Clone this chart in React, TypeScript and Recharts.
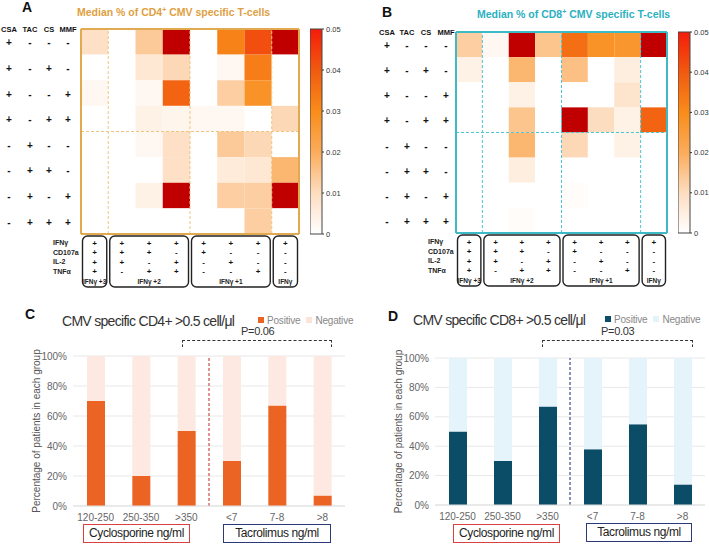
import React from 'react';
import { ScatterChart, Scatter, XAxis, YAxis, ReferenceLine, BarChart, Bar, CartesianGrid } from 'recharts';

// immunosuppression combos (rows of the heatmaps)
const drugNames = ['CSA', 'TAC', 'CS', 'MMF'];
const drugRows = [
  ['+', '-', '-', '-'],
  ['+', '-', '+', '-'],
  ['+', '-', '-', '+'],
  ['+', '-', '+', '+'],
  ['-', '+', '-', '-'],
  ['-', '+', '+', '-'],
  ['-', '+', '-', '+'],
  ['-', '+', '+', '+'],
];

// functional marker combos (columns)
const markerNames = ['IFNγ', 'CD107a', 'IL-2', 'TNFα'];
const markerCols = [
  ['+', '+', '+', '+'],
  ['+', '+', '+', '-'],
  ['+', '+', '-', '+'],
  ['+', '-', '+', '+'],
  ['+', '+', '-', '-'],
  ['+', '-', '+', '-'],
  ['+', '-', '-', '+'],
  ['+', '-', '-', '-'],
];
const markerGroups = [
  { label: 'IFNγ +3', start: 0, len: 1 },
  { label: 'IFNγ +2', start: 1, len: 3 },
  { label: 'IFNγ +1', start: 4, len: 3 },
  { label: 'IFNγ', start: 7, len: 1 },
];

// median % values, > 0.05 is off scale (dark red)
const cd4Median = [
  [0.009, 0, 0.014, 0.06, 0, 0.032, 0.042, 0.06],
  [0, 0, 0.007, 0.011, 0, 0.002, 0.033, 0],
  [0.002, 0, 0.002, 0.038, 0, 0.013, 0.028, 0],
  [0, 0, 0.004, 0.003, 0.002, 0.002, 0, 0.011],
  [0, 0, 0.002, 0.009, 0, 0.014, 0.011, 0],
  [0, 0, 0, 0.009, 0, 0.006, 0.007, 0.018],
  [0, 0, 0.004, 0.06, 0, 0.013, 0.013, 0.06],
  [0, 0, 0, 0, 0, 0, 0.013, 0],
];
const cd8Median = [
  [0.013, 0.002, 0.06, 0.015, 0.036, 0.028, 0.027, 0.06],
  [0.004, 0, 0.018, 0, 0.016, 0, 0.005, 0],
  [0, 0, 0.004, 0, 0, 0, 0.008, 0],
  [0, 0, 0.015, 0, 0.06, 0.01, 0.004, 0.038],
  [0, 0, 0.018, 0, 0.011, 0, 0.004, 0],
  [0, 0, 0.005, 0, 0, 0, 0, 0],
  [0, 0, 0, 0, 0.001, 0, 0, 0],
  [0, 0, 0.001, 0, 0, 0, 0, 0],
];
const scaleTicks = [0, 0.01, 0.02, 0.03, 0.04, 0.05];

// panels C / D
const levels = ['120-250', '250-350', '>350', '<7', '7-8', '>8'];
const cd4Pos = [70, 20, 50, 30, 67, 7];
const cd4Neg = [30, 80, 50, 70, 33, 93];
const cd8Pos = [50, 30, 67, 38, 55, 14];
const cd8Neg = [50, 70, 33, 62, 45, 86];
const pctTicks = [0, 20, 40, 60, 80, 100];

const FONT = 'Arial, "Liberation Sans", sans-serif';

const heatStops: [number, number[]][] = [
  [0, [255, 255, 255]],
  [0.01, [253, 221, 192]],
  [0.02, [251, 172, 92]],
  [0.03, [249, 140, 26]],
  [0.04, [240, 90, 16]],
  [0.05, [245, 28, 10]],
];

function heatColor(v: number) {
  if (v > 0.05) return '#c00000';
  for (let i = 1; i < heatStops.length; i++) {
    const [v1, c1] = heatStops[i];
    if (v <= v1) {
      const [v0, c0] = heatStops[i - 1];
      const t = (v - v0) / (v1 - v0);
      const c = c0.map((a, k) => Math.round(a + (c1[k] - a) * t));
      return `rgb(${c[0]},${c[1]},${c[2]})`;
    }
  }
  return '#c00000';
}

interface HeatmapProps {
  values: number[][];
  left: number;
  top: number;
  plotW: number;
  plotH: number;
  accent: string;
  dash: string;
  rowX: number[];
}

function Heatmap({ values, left, top, plotW, plotH, accent, dash, rowX }: HeatmapProps) {
  const padL = 81;
  const mTop = 20;
  const axisH = 62;
  const cw = plotW / 8;
  const ch = plotH / 8;
  const cells = values.flatMap((row, r) => row.map((v, c) => ({ x: c + 0.5, y: r + 0.5, v })));
  const centers = drugRows.map((_, i) => i + 0.5);
  const bottom = mTop + plotH;
  const signY = [9, 18.5, 28, 37.5];

  const rowTick = (p: any) => {
    const r = Math.floor(p.payload.value);
    return (
      <g>
        {r === 0 &&
          drugNames.map((d, k) => (
            <text key={d} x={padL + rowX[k]} y={p.y - 10} textAnchor="middle" fontSize={7.5} fontWeight="bold" fill="#111" fontFamily={FONT}>
              {d}
            </text>
          ))}
        {drugRows[r].map((s, k) => (
          <text key={k} x={padL + rowX[k]} y={p.y + 1} dy="0.35em" textAnchor="middle" fontSize={10} fontWeight="bold" fill="#111" fontFamily={FONT}>
            {s}
          </text>
        ))}
      </g>
    );
  };

  const colTick = (p: any) => {
    const c = Math.floor(p.payload.value);
    const grp = markerGroups.find((g) => g.start === c);
    return (
      <g>
        {c === 0 &&
          markerNames.map((m, k) => (
            <text key={m} x={padL - 28} y={bottom + signY[k]} dy="0.35em" fontSize={7} fontWeight="bold" fill="#222" fontFamily={FONT}>
              {m}
            </text>
          ))}
        {markerCols[c].map((s, k) => (
          <text key={k} x={p.x} y={bottom + signY[k]} dy="0.35em" textAnchor="middle" fontSize={8} fontWeight="bold" fill="#111" fontFamily={FONT}>
            {s}
          </text>
        ))}
        {grp && (
          <g>
            <rect x={p.x - cw / 2 + 1.5} y={bottom + 2} width={grp.len * cw - 3} height={51} rx={5} fill="none" stroke="#222" strokeWidth={1.4} />
            <text x={p.x - cw / 2 + (grp.len * cw) / 2} y={bottom + 48} dy="0.35em" textAnchor="middle" fontSize={6.5} fontWeight="bold" fill="#222" fontFamily={FONT}>
              {grp.label}
            </text>
          </g>
        )}
      </g>
    );
  };

  return (
    <div style={{ position: 'absolute', left: left - padL, top: top - mTop }}>
      <ScatterChart width={padL + plotW + 4} height={mTop + plotH + axisH} margin={{ top: mTop, right: 4, bottom: 0, left: 0 }}>
        <XAxis type="number" dataKey="x" domain={[0, 8]} ticks={centers} interval={0} axisLine={false} tickLine={false} height={axisH} tick={colTick} />
        <YAxis type="number" dataKey="y" domain={[0, 8]} reversed ticks={centers} interval={0} axisLine={false} tickLine={false} width={padL} tick={rowTick} />
        <Scatter
          data={cells}
          isAnimationActive={false}
          shape={(p: any) => <rect x={p.cx - cw / 2} y={p.cy - ch / 2} width={cw} height={ch} fill={heatColor(p.payload.v)} />}
        />
        {[1, 4, 7].map((x) => (
          <ReferenceLine key={x} x={x} stroke={dash} strokeDasharray="3 2" strokeWidth={1} zIndex={700} />
        ))}
        <ReferenceLine y={4} stroke={dash} strokeDasharray="3 2" strokeWidth={1} zIndex={700} />
        {[0, 8].map((x) => (
          <ReferenceLine key={'bx' + x} x={x} stroke={accent} strokeWidth={2} zIndex={700} />
        ))}
        {[0, 8].map((y) => (
          <ReferenceLine key={'by' + y} y={y} stroke={accent} strokeWidth={2} zIndex={700} />
        ))}
      </ScatterChart>
    </div>
  );
}

function ColorBar({ id, left, top, h }: { id: string; left: number; top: number; h: number }) {
  const max = scaleTicks[scaleTicks.length - 1];
  // top of the bar is the max, so go from high to low for increasing offsets
  const steps = [0.05, 0.045, 0.04, 0.035, 0.03, 0.025, 0.02, 0.015, 0.01, 0.005, 0];
  return (
    <div style={{ position: 'absolute', left, top: top - 6 }}>
      <BarChart width={44} height={h + 12} data={[{ k: 'scale', v: max }]} margin={{ top: 6, bottom: 6, left: 0, right: 0 }} barCategoryGap={0}>
        <defs>
          <linearGradient id={id} x1="0" y1="0" x2="0" y2="1">
            {steps.map((s) => (
              <stop key={s} offset={1 - s / max} stopColor={heatColor(s)} />
            ))}
          </linearGradient>
        </defs>
        <XAxis dataKey="k" hide />
        <YAxis
          orientation="right"
          type="number"
          domain={[0, max]}
          ticks={scaleTicks}
          width={32}
          axisLine={false}
          tickLine={{ stroke: '#333' }}
          tickSize={2}
          tickMargin={2}
          tick={{ fontSize: 7.5, fill: '#333', fontFamily: FONT }}
          tickFormatter={(v: number) => String(v)}
        />
        <Bar dataKey="v" fill={`url(#${id})`} stroke="#444" strokeWidth={1} isAnimationActive={false} />
      </BarChart>
    </div>
  );
}

interface BarPanelProps {
  left: number;
  top: number;
  width: number;
  plotH: number;
  pos: number[];
  neg: number[];
  posColor: string;
  negColor: string;
  sepColor: string;
}

function BarPanel({ left, top, width, plotH, pos, neg, posColor, negColor, sepColor }: BarPanelProps) {
  const data = levels.map((g, i) => ({ g, Positive: pos[i], Negative: neg[i] }));
  const axisTick = { fontSize: 10, fill: '#666', fontFamily: FONT };
  return (
    <div style={{ position: 'absolute', left, top }}>
      <BarChart width={width} height={56 + plotH + 18 + 21} data={data} margin={{ top: 56, right: width === 360 ? 15 : 4, bottom: 21, left: 0 }}>
        <CartesianGrid vertical={false} stroke="#e8e8e8" />
        <XAxis dataKey="g" axisLine={{ stroke: '#e0e0e0' }} tickLine={false} tick={axisTick} height={18} interval={0} />
        <YAxis
          domain={[0, 100]}
          ticks={pctTicks}
          tickFormatter={(v: number) => v + '%'}
          width={73}
          axisLine={false}
          tickLine={false}
          tickSize={4}
          tick={axisTick}
          label={{
            value: 'Percentage of patients in each group',
            angle: -90,
            position: 'insideLeft',
            offset: 36,
            style: { textAnchor: 'middle', fontSize: 10, fill: '#555', fontFamily: FONT },
          }}
        />
        <Bar dataKey="Positive" stackId="s" fill={posColor} barSize={18} isAnimationActive={false} />
        <Bar dataKey="Negative" stackId="s" fill={negColor} barSize={18} isAnimationActive={false} />
        <ReferenceLine x={levels[3]} position="start" stroke={sepColor} strokeDasharray="3 2" strokeWidth={1.2} />
      </BarChart>
    </div>
  );
}

const abs = (left: number, top: number, extra: React.CSSProperties = {}): React.CSSProperties => ({
  position: 'absolute',
  left,
  top,
  lineHeight: 1,
  whiteSpace: 'nowrap',
  ...extra,
});

function Legend({ left, top, posColor, negColor }: { left: number; top: number; posColor: string; negColor: string }) {
  const sq = (c: string): React.CSSProperties => ({ display: 'inline-block', width: 6, height: 6, background: c, marginRight: 3, verticalAlign: 'middle', position: 'relative', top: -1 });
  return (
    <div style={abs(left, top, { fontSize: 10, color: '#888', letterSpacing: -0.2 })}>
      <span style={sq(posColor)} />
      Positive
      <span style={{ ...sq(negColor), marginLeft: 6 }} />
      Negative
    </div>
  );
}

function Bracket({ left, top, width }: { left: number; top: number; width: number }) {
  return (
    <div
      style={{
        position: 'absolute',
        left,
        top,
        width,
        height: 6,
        borderTop: '1.3px dashed #333',
        borderLeft: '1.3px dashed #333',
        borderRight: '1.3px dashed #333',
      }}
    />
  );
}

function DrugBox({ left, top, width, color, text }: { left: number; top: number; width: number; color: string; text: string }) {
  return (
    <div
      style={{
        position: 'absolute',
        left,
        top,
        width,
        height: 19,
        boxSizing: 'border-box',
        border: `1.5px solid ${color}`,
        fontSize: 12,
        lineHeight: '16px',
        textAlign: 'center',
        color: '#222',
        letterSpacing: -0.4,
        whiteSpace: 'nowrap',
      }}
    >
      {text}
    </div>
  );
}

export default function App() {
  const sup: React.CSSProperties = { fontSize: 7, verticalAlign: 'super', lineHeight: 0 };
  return (
    <div style={{ position: 'absolute', left: 0, top: 0, width: 709, height: 545, background: '#fff', overflow: 'hidden', fontFamily: FONT }}>
      {/* A */}
      <div style={abs(22, 0, { fontSize: 14, fontWeight: 'bold', color: '#111' })}>A</div>
      <div style={abs(77, 7, { fontSize: 10.5, fontWeight: 'bold', color: '#E0A042' })}>
        Median % of CD4<span style={sup}>+</span> CMV specific T-cells
      </div>
      <Heatmap values={cd4Median} left={81} top={29} plotW={218} plotH={205} accent="#E2AA50" dash="#EDC57E" rowX={[-72, -51, -32, -13]} />
      <ColorBar id="cbA" left={310} top={29} h={205} />

      {/* B */}
      <div style={abs(382, 5, { fontSize: 14, fontWeight: 'bold', color: '#111' })}>B</div>
      <div style={abs(477, 9, { fontSize: 10.5, fontWeight: 'bold', color: '#2BB0C0' })}>
        Median % of CD8<span style={sup}>+</span> CMV specific T-cells
      </div>
      <Heatmap values={cd8Median} left={456} top={32} plotW={211} plotH={201} accent="#3DBAC6" dash="#4CC6D2" rowX={[-69, -49, -30, -10]} />
      <ColorBar id="cbB" left={678} top={32} h={201} />

      {/* C */}
      <div style={abs(25, 307, { fontSize: 14, fontWeight: 'bold', color: '#111' })}>C</div>
      <div style={abs(62, 314, { fontSize: 14, color: '#333', letterSpacing: -0.7 })}>CMV specific CD4+ &gt;0.5 cell/μl</div>
      <Legend left={258} top={316} posColor="#EB6424" negColor="#FBE3DA" />
      <div style={abs(241, 326, { fontSize: 11, color: '#333', letterSpacing: -0.3 })}>P=0.06</div>
      <Bracket left={182} top={340} width={148} />
      <BarPanel left={0} top={300} width={360} plotH={150} pos={cd4Pos} neg={cd4Neg} posColor="#EB6424" negColor="#FDE9E1" sepColor="#D04848" />
      <DrugBox left={83} top={524} width={107} color="#D9403F" text="Cyclosporine ng/ml" />
      <DrugBox left={223} top={524} width={108} color="#2A3A78" text="Tacrolimus ng/ml" />

      {/* D */}
      <div style={abs(388, 309, { fontSize: 14, fontWeight: 'bold', color: '#111' })}>D</div>
      <div style={abs(413, 313, { fontSize: 14, color: '#333', letterSpacing: -0.7 })}>CMV specific CD8+ &gt;0.5 cell/μl</div>
      <Legend left={605} top={315} posColor="#0B4D66" negColor="#E2F3FA" />
      <div style={abs(601, 326, { fontSize: 11, color: '#333', letterSpacing: -0.3 })}>P=0.03</div>
      <Bracket left={542} top={340} width={149} />
      <BarPanel left={362} top={302} width={347} plotH={147} pos={cd8Pos} neg={cd8Neg} posColor="#0B4D66" negColor="#E5F4FB" sepColor="#3A4A8A" />
      <DrugBox left={453} top={524} width={107} color="#D9403F" text="Cyclosporine ng/ml" />
      <DrugBox left={586} top={523} width={106} color="#2A3A78" text="Tacrolimus ng/ml" />
    </div>
  );
}
